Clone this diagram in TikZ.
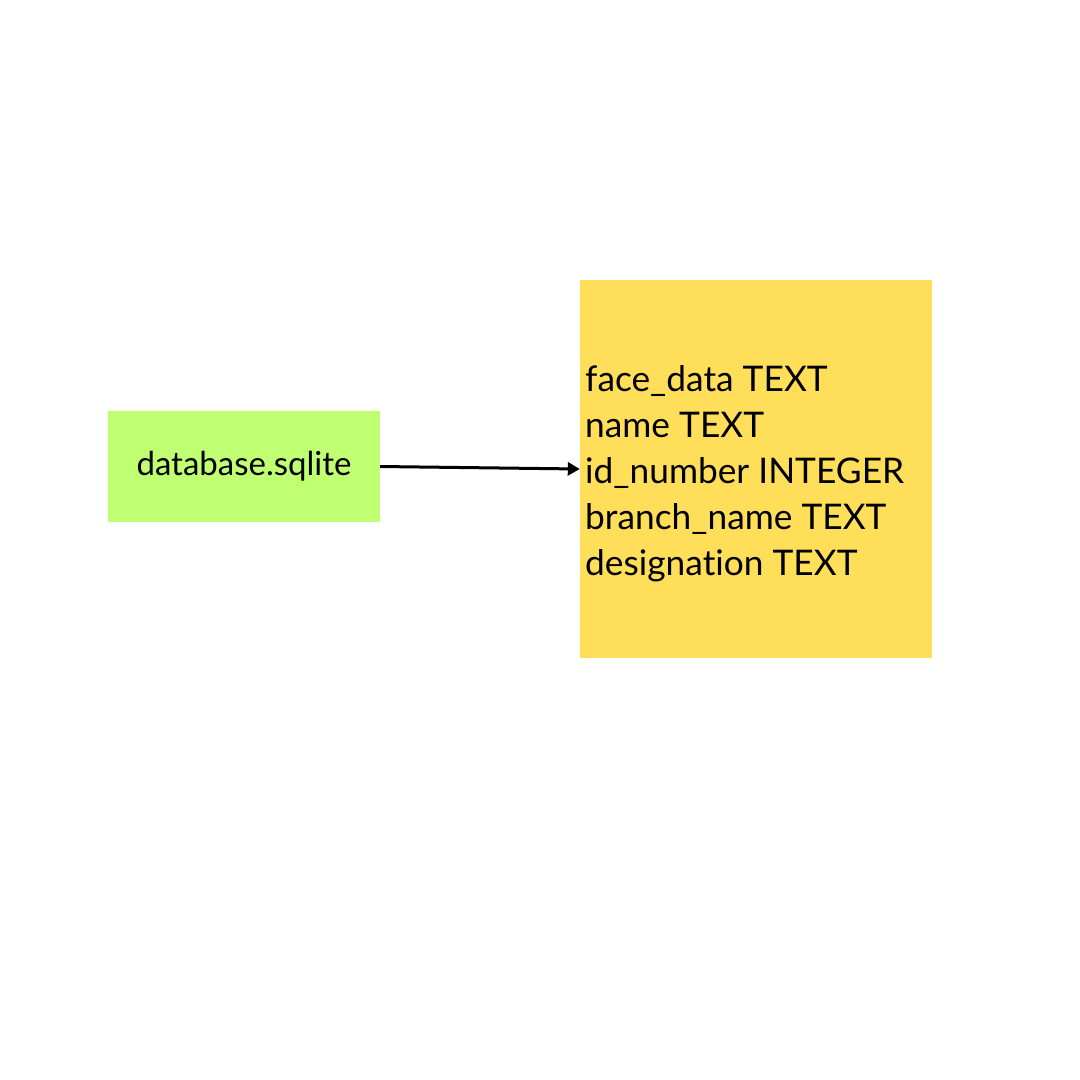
\documentclass[tikz,border=0pt]{standalone}
\usepackage{fontspec}
\setmainfont{Lato}[Ligatures={NoCommon}]
\usetikzlibrary{arrows.meta}
\definecolor{boxgreen}{HTML}{C1FF72}
\definecolor{boxyellow}{HTML}{FFDE59}
\tikzset{
  dbbox/.style={fill=boxgreen, draw=none, minimum width=272pt, minimum height=111pt, inner sep=0pt, font=\fontsize{33}{38}\selectfont},
  tablebox/.style={fill=boxyellow, draw=none, minimum width=352pt, minimum height=378pt, inner sep=0pt},
  fieldtext/.style={anchor=base west, inner sep=0pt, font=\fontsize{35.3}{46}\selectfont},
  link/.style={line width=3pt, -{Triangle[length=12pt,width=13pt]}}
}
\begin{document}
\begin{tikzpicture}[x=1pt,y=-1pt]
\useasboundingbox (0,0) rectangle (1080,1080);
\fill[white] (0,0) rectangle (1080,1080);
\node[dbbox] (db) at (244,466.5) {database.sqlite};
\node[tablebox] (tbl) at (756,469) {};
\node[fieldtext] (f1) at (585,391) {face\_data TEXT};
\node[fieldtext] (f2) at (585,437) {name TEXT};
\node[fieldtext] (f3) at (585,483) {id\_number INTEGER};
\node[fieldtext] (f4) at (585,529) {branch\_name TEXT};
\node[fieldtext] (f5) at (585,575) {designation TEXT};
\draw[link] (db.east) -- (tbl.west);
\end{tikzpicture}
\end{document}
